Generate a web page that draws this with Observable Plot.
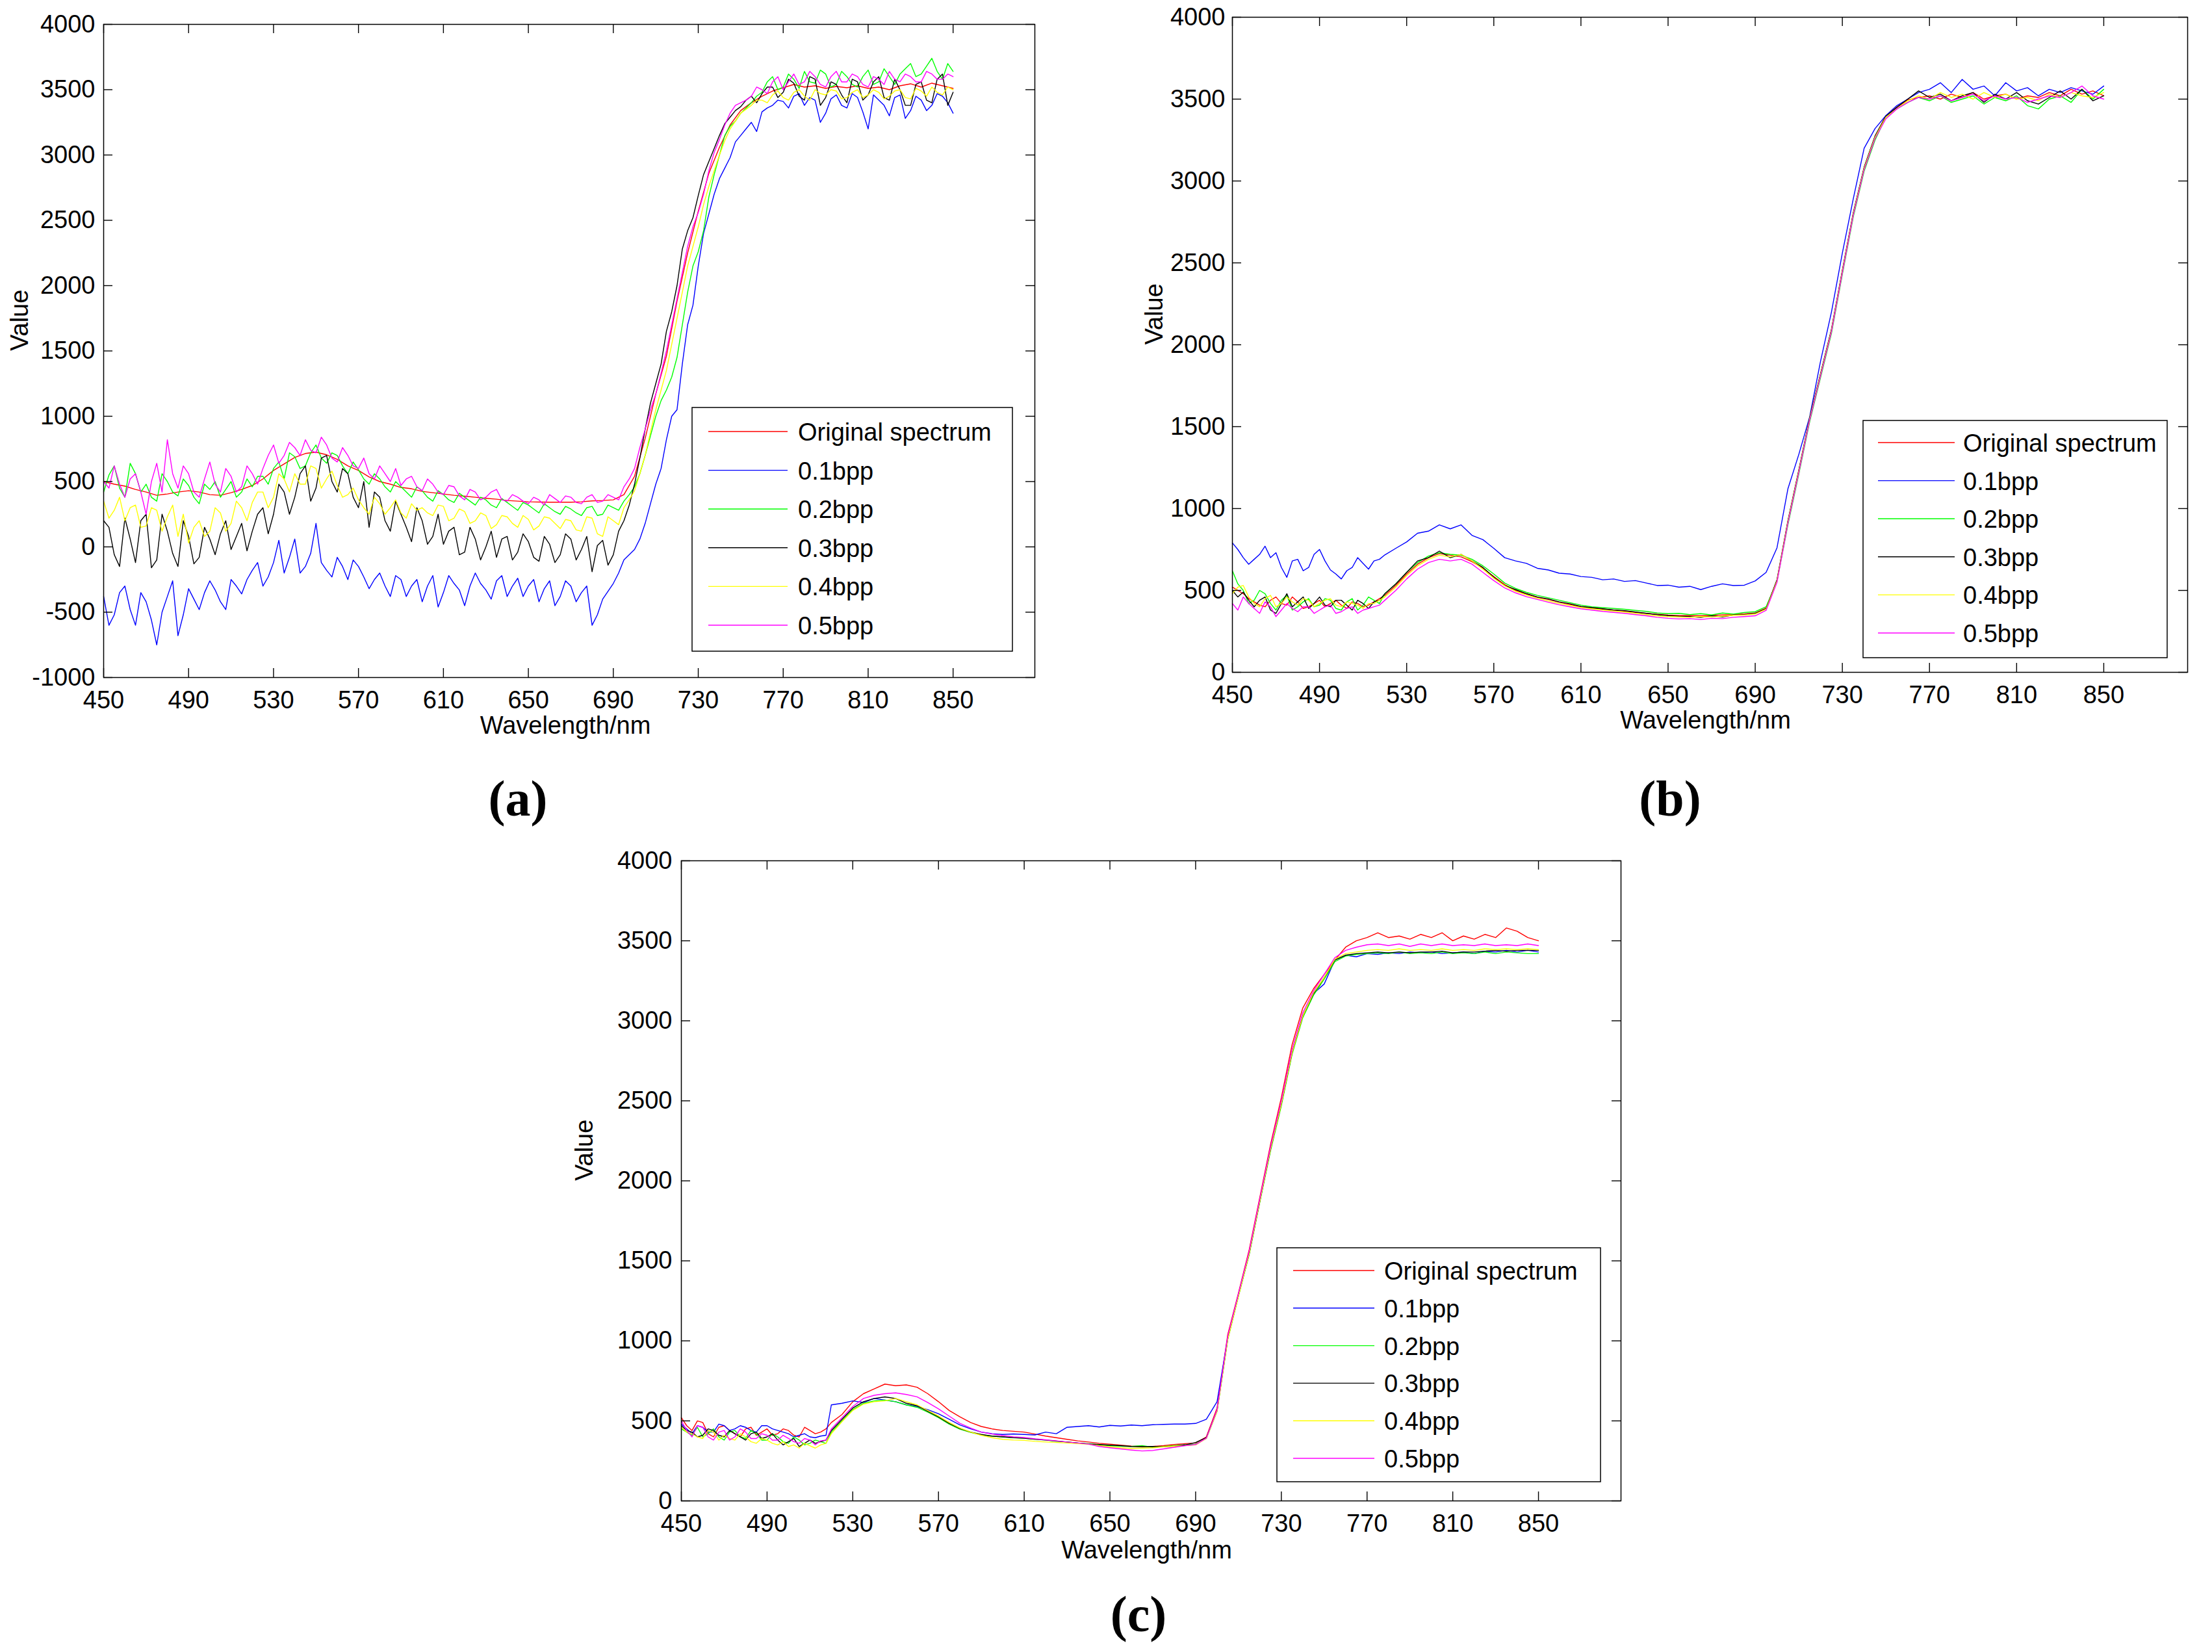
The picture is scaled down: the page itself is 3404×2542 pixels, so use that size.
<!DOCTYPE html>
<html>
<head>
<meta charset="utf-8">
<script src="https://cdn.jsdelivr.net/npm/d3@7"></script>
<script src="https://cdn.jsdelivr.net/npm/@observablehq/plot@0.6"></script>
<style>
  html, body { margin: 0; padding: 0; background: #fff; }
  body { width: 3404px; height: 2542px; position: relative; overflow: hidden; font-family: "Liberation Sans", Arial, sans-serif; }
  .panel { position: absolute; }
  #overlay { position: absolute; left: 0; top: 0; pointer-events: none; }
</style>
</head>
<body>
<div id="pa" class="panel" style="left:0px;top:0px;width:1700px;"></div>
<div id="pb" class="panel" style="left:1740px;top:0px;width:1664px;"></div>
<div id="pc" class="panel" style="left:860px;top:1290px;width:1700px;"></div>
<svg id="overlay" width="3404" height="2542"></svg>
<script>
// ---------- shared axes / categories ----------
const wavelength = [450,455,460,465,470,475,480,485,490,495,
  500,505,510,515,520,525,530,535,540,545,
  550,555,560,565,570,575,580,585,590,595,
  600,605,610,615,620,625,630,635,640,645,
  650,655,660,665,670,675,680,685,690,695,
  700,705,710,715,720,725,730,735,740,745,
  750,755,760,765,770,775,780,785,790,795,
  800,805,810,815,820,825,830,835,840,845,
  850];
// intermediate samples
const wavelengthMid = [452.5,457.5,462.5,467.5,472.5,477.5,482.5,487.5,492.5,497.5,
  502.5,507.5,512.5,517.5,522.5,527.5,532.5,537.5,542.5,547.5,
  552.5,557.5,562.5,567.5,572.5,577.5,582.5,587.5,592.5,597.5,
  602.5,607.5,612.5,617.5,622.5,627.5,632.5,637.5,642.5,647.5,
  652.5,657.5,662.5,667.5,672.5,677.5,682.5,687.5,692.5,697.5,
  702.5,707.5,712.5,717.5,722.5,727.5,732.5,737.5,742.5,747.5,
  752.5,757.5,762.5,767.5,772.5,777.5,782.5,787.5,792.5,797.5,
  802.5,807.5,812.5,817.5,822.5,827.5,832.5,837.5,842.5,847.5];
const wavelengthMidLow = [452.5,457.5,462.5,467.5,472.5,477.5,482.5,487.5,492.5,497.5,
  502.5,507.5,512.5,517.5];
const xTicks = [450,490,530,570,610,650,690,730,770,810,850];
const yTicksA = [-1000,-500,0,500,1000,1500,2000,2500,3000,3500,4000];
const yTicksBC = [0,500,1000,1500,2000,2500,3000,3500,4000];
const seriesNames = ["Original spectrum","0.1bpp","0.2bpp","0.3bpp","0.4bpp","0.5bpp"];
const seriesColors = ["#ff0000","#0000ff","#00ff00","#000000","#ffff00","#ff00ff"];
const panelLabels = ["(a)","(b)","(c)"];

// ---------- panel (a) ----------
const a_orig = [500,480,465,440,420,395,405,420,430,420,
  400,395,415,440,470,520,585,635,685,715,
  725,705,670,620,585,535,500,480,455,445,
  425,415,405,395,388,380,372,365,355,350,
  345,343,342,342,342,345,352,355,360,400,
  540,830,1170,1460,1880,2250,2570,2860,3060,3230,
  3340,3400,3450,3490,3515,3540,3520,3530,3510,3525,
  3515,3530,3510,3520,3500,3530,3545,3520,3550,3530,
  3510];
const a_01 = [-380,-520,-300,-600,-420,-750,-380,-680,-320,-480,
  -260,-420,-250,-360,-180,-300,-120,-200,60,-150,
  180,-180,-80,-250,-150,-320,-200,-380,-250,-300,
  -420,-220,-350,-280,-450,-200,-330,-260,-380,-240,
  -300,-420,-260,-380,-300,-350,-600,-400,-280,-100,
  -20,180,480,820,1050,1700,2150,2550,2820,2980,
  3150,3250,3330,3380,3410,3450,3380,3420,3320,3460,
  3360,3440,3200,3420,3300,3460,3340,3420,3380,3450,
  3320];
const a_01_mid = [-600,-350,-480,-350,-560,-500,-260,-520,-400,-350,
  -330,-480,-300,-250,-120,-230,50,-80,-200,-50,
  -120,-230,-150,-100,-230,-250,-300,-220,-380,-250,
  -300,-460,-220,-330,-300,-280,-400,-220,-300,-380,
  -250,-320,-450,-260,-420,-300,-520,-340,-200,-60,
  60,330,600,1000,1400,1850,2400,2700,2900,3100,
  3200,3180,3360,3420,3360,3470,3440,3250,3430,3380,
  3470,3330,3460,3380,3440,3280,3450,3340,3470,3400];
const a_02 = [420,620,380,560,480,350,500,390,470,330,
  440,380,500,420,460,540,600,520,690,620,
  780,640,700,560,590,480,520,420,460,380,
  430,350,400,340,380,320,360,300,340,280,
  320,260,300,250,290,240,310,250,300,350,
  460,700,1000,1200,1450,1950,2260,2680,3000,3220,
  3320,3400,3480,3600,3520,3580,3640,3550,3620,3540,
  3600,3520,3650,3560,3600,3620,3700,3620,3740,3580,
  3640];
const a_02_mid = [550,450,640,420,380,560,420,520,380,480,
  500,440,380,520,540,480,650,720,600,720,
  680,720,620,650,520,560,460,500,420,460,
  380,430,360,410,350,380,320,370,310,340,
  290,330,270,310,260,300,240,320,280,400,
  560,850,1120,1300,1700,2150,2420,2850,3150,3260,
  3360,3450,3560,3500,3620,3510,3560,3650,3520,3640,
  3540,3600,3540,3660,3540,3660,3600,3680,3640,3700];
const a_03 = [200,-60,220,-120,250,-100,120,-150,80,-80,
  60,100,-20,180,120,300,250,420,380,620,
  450,700,420,560,300,150,380,120,250,40,
  200,80,20,150,-40,60,0,-80,80,-40,
  40,-110,20,-60,60,-20,-190,50,-60,200,
  480,900,1250,1650,2000,2420,2690,2950,3150,3290,
  3370,3450,3470,3520,3480,3550,3420,3580,3440,3540,
  3400,3560,3460,3600,3420,3500,3380,3560,3400,3620,
  3480];
const a_03_mid = [150,-150,60,200,-160,250,-50,200,-130,150,
  -60,200,80,-30,250,100,480,250,560,350,
  680,500,600,380,500,420,200,350,150,300,
  20,250,120,-60,150,-100,120,60,-100,100,
  -80,80,-120,100,-100,80,10,-140,120,320,
  680,1100,1400,1800,2280,2520,2850,3050,3240,3340,
  3420,3400,3520,3440,3580,3450,3600,3380,3560,3460,
  3580,3420,3560,3440,3580,3380,3540,3420,3580,3380];
const a_04 = [350,280,200,320,160,280,230,80,30,200,
  120,260,180,300,340,420,380,520,560,480,
  600,520,470,400,360,250,330,300,260,330,
  300,240,310,220,270,200,240,170,230,150,
  210,160,220,140,200,120,220,80,200,300,
  430,700,1050,1350,1750,2150,2450,2760,3000,3200,
  3320,3380,3420,3460,3440,3480,3450,3500,3460,3490,
  3440,3500,3460,3480,3450,3500,3430,3490,3520,3460,
  3500];
const a_04_mid = [220,380,300,150,300,120,320,250,150,80,
  300,120,350,200,420,300,560,420,480,620,
  450,580,380,450,300,380,250,360,220,280,
  260,320,200,290,180,260,140,240,180,240,
  130,230,180,210,130,230,100,230,170,360,
  560,880,1200,1550,1950,2300,2620,2880,3110,3260,
  3350,3420,3400,3490,3420,3500,3420,3470,3500,3430,
  3480,3440,3500,3430,3490,3440,3510,3450,3480,3520];
const a_05 = [500,620,380,560,250,640,820,450,560,380,
  650,420,540,460,560,600,780,700,760,820,
  720,780,650,700,600,560,620,500,470,540,
  430,480,400,460,360,420,380,440,350,380,
  330,360,400,340,380,330,400,350,380,460,
  600,900,1170,1500,1900,2300,2560,2880,3120,3320,
  3400,3450,3500,3560,3500,3620,3560,3600,3520,3640,
  3560,3600,3520,3580,3640,3560,3600,3560,3620,3580,
  3600];
const a_05_mid = [450,480,520,420,500,420,560,620,420,520,
  480,600,420,620,480,700,640,800,700,740,
  840,680,760,620,680,520,560,600,520,460,
  520,420,470,390,440,360,420,360,400,350,
  380,320,370,390,340,380,340,400,360,520,
  760,1050,1330,1700,2100,2450,2700,3020,3230,3380,
  3420,3520,3470,3600,3560,3540,3640,3540,3600,3560,
  3620,3540,3600,3540,3580,3620,3560,3640,3580,3620];

// ---------- panel (b) ----------
const b_orig = [520,480,430,400,460,410,430,400,440,420,
  410,430,400,430,470,530,600,660,700,725,
  715,705,675,635,585,535,500,478,458,445,
  428,414,400,392,386,380,374,366,360,354,
  349,346,346,345,347,350,352,356,362,392,
  560,920,1230,1550,1820,2090,2450,2800,3080,3270,
  3400,3450,3495,3510,3520,3500,3530,3510,3540,3500,
  3520,3530,3500,3520,3510,3540,3520,3560,3530,3550,
  3520];
const b_orig_mid = [500,450,410,440,420,460,390,420,400,440,390,420,410,450];
const b_01 = [790,700,690,770,730,580,690,640,750,625,
  570,640,665,680,717,757,796,849,862,900,
  876,900,836,810,757,700,680,665,635,625,
  605,600,585,580,565,570,555,560,545,530,
  532,520,525,505,525,540,530,532,558,610,
  760,1120,1330,1560,1900,2200,2560,2890,3200,3320,
  3400,3460,3500,3540,3560,3600,3540,3620,3560,3580,
  3520,3600,3550,3570,3520,3560,3540,3570,3550,3530,
  3580];
const b_01_mid = [750,660,720,700,640,680,620,720,680,600,620,700,630,690];
const b_02 = [620,500,440,480,380,470,400,450,410,440,
  380,450,410,440,480,540,610,670,710,730,
  720,715,690,650,600,545,512,488,470,455,
  440,425,410,400,395,390,385,378,372,362,
  358,360,352,358,350,362,355,365,370,400,
  555,900,1210,1530,1800,2070,2430,2780,3060,3250,
  3390,3440,3480,3510,3490,3520,3480,3500,3520,3470,
  3510,3490,3520,3460,3440,3500,3520,3480,3560,3500,
  3560];
const b_02_mid = [540,420,500,420,440,380,430,400,450,390,430,380,460,420];
const b_03 = [500,490,400,460,360,480,430,390,460,400,
  440,380,420,430,480,540,610,680,700,740,
  700,720,680,640,580,530,505,480,460,448,
  430,418,402,395,388,380,376,368,360,352,
  346,342,340,335,345,338,350,352,360,388,
  565,925,1235,1555,1825,2095,2455,2805,3085,3275,
  3395,3450,3500,3550,3510,3530,3490,3520,3540,3480,
  3530,3500,3540,3490,3470,3510,3550,3500,3560,3490,
  3520];
const b_03_mid = [460,440,440,380,420,400,460,420,410,440,410,440,390,440];
const b_04 = [480,530,420,450,400,460,410,440,420,450,
  400,420,390,420,460,520,590,650,690,715,
  705,720,680,630,575,528,495,472,452,436,
  420,408,396,388,380,374,368,360,352,345,
  340,338,336,340,338,342,348,350,356,385,
  558,918,1228,1548,1818,2088,2448,2798,3078,3268,
  3390,3440,3490,3520,3500,3540,3510,3530,3500,3540,
  3510,3530,3500,3510,3490,3530,3510,3540,3520,3510,
  3540];
const b_04_mid = [520,460,400,470,420,430,450,400,440,410,430,410,420,440];
const b_05 = [420,460,390,430,340,420,370,400,380,410,
  370,400,380,400,440,500,570,630,670,690,
  680,690,660,610,560,515,485,462,445,428,
  412,400,388,380,372,366,360,352,345,336,
  330,326,328,322,330,328,336,340,345,378,
  550,910,1220,1540,1810,2080,2440,2790,3070,3260,
  3380,3440,3480,3510,3500,3520,3490,3510,3530,3490,
  3520,3500,3510,3480,3500,3520,3510,3540,3580,3520,
  3500];
const b_05_mid = [380,420,360,400,380,390,400,360,400,360,390,360,390,410];

// ---------- panel (c) ----------
const c_orig = [520,440,490,400,470,420,450,410,450,420,
  440,400,440,430,490,540,620,670,700,730,
  720,725,710,670,620,565,525,490,465,450,
  440,435,430,418,405,395,385,375,368,360,
  355,348,342,340,340,345,352,358,362,400,
  580,1040,1300,1570,1900,2230,2520,2850,3080,3200,
  3290,3380,3460,3500,3520,3550,3520,3530,3510,3540,
  3520,3550,3500,3530,3510,3540,3520,3580,3560,3520,
  3500];
const c_orig_mid = [470,500,420,460,440,400,460,430,410,450,410,460,420,450];
const c_01 = [480,420,460,430,470,450,460,430,470,440,
  420,410,400,405,600,610,625,615,640,630,
  620,600,590,570,545,510,475,450,430,420,
  415,418,415,412,430,420,460,465,470,462,
  472,468,474,470,476,478,480,480,484,510,
  620,1020,1290,1550,1880,2200,2480,2800,3030,3170,
  3230,3380,3410,3400,3420,3415,3425,3420,3430,3425,
  3430,3420,3425,3430,3420,3435,3430,3440,3430,3440,
  3430];
const c_01_mid = [450,470,430,480,440,470,440,470,450,430,400,420,395,410];
const c_02 = [450,410,400,450,380,440,390,420,380,400,
  360,380,360,370,430,500,570,610,625,630,
  620,600,585,555,520,480,448,428,412,405,
  400,395,392,385,380,372,368,362,358,350,
  345,342,340,345,335,340,345,350,355,390,
  560,1010,1280,1540,1870,2190,2470,2790,3020,3160,
  3260,3370,3405,3415,3420,3425,3420,3430,3420,3425,
  3420,3430,3420,3425,3420,3430,3420,3430,3425,3420,
  3420];
const c_02_mid = [430,460,420,400,430,400,440,380,420,370,400,350,380,360];
const c_03 = [470,430,410,440,400,420,380,430,400,380,
  370,340,380,370,440,510,580,620,640,650,
  640,610,595,560,525,485,452,430,415,405,
  400,396,392,386,380,374,368,362,356,352,
  348,345,340,338,340,338,342,350,365,395,
  565,1015,1285,1545,1875,2200,2480,2800,3030,3170,
  3270,3380,3410,3420,3425,3430,3425,3430,3425,3430,
  3430,3435,3425,3430,3430,3435,3440,3435,3440,3440,
  3440];
const c_03_mid = [440,400,450,410,440,400,420,390,420,350,390,360,360,380];
const c_04 = [460,420,390,430,410,380,400,360,380,350,
  340,330,345,350,420,495,565,605,620,625,
  640,620,600,565,530,490,455,430,410,395,
  385,380,378,372,368,365,362,358,354,345,
  338,332,328,330,332,338,342,345,350,390,
  560,1010,1280,1545,1875,2200,2480,2800,3030,3175,
  3270,3385,3420,3430,3440,3445,3440,3450,3440,3445,
  3440,3450,3440,3445,3440,3450,3445,3450,3445,3450,
  3445];
const c_04_mid = [430,400,440,380,390,420,370,390,360,370,350,360,330,360];
const c_05 = [500,400,460,380,440,400,430,390,410,380,
  390,360,380,375,450,520,590,640,660,670,
  675,665,650,615,575,530,485,455,430,418,
  408,400,396,388,382,375,368,362,355,340,
  332,325,318,312,315,325,335,345,352,392,
  570,1030,1295,1560,1890,2215,2500,2820,3050,3185,
  3290,3395,3440,3460,3475,3480,3470,3480,3465,3480,
  3470,3480,3470,3475,3470,3480,3470,3475,3470,3480,
  3470];
const c_05_mid = [440,470,400,430,380,450,390,420,380,410,370,390,350,380];

// ---------- drawing ----------
const FONT = '"Liberation Sans", Arial, Helvetica, sans-serif';
const FS = 38;

// merge the main samples with the extra (separately read) samples, ordered by wavelength
function samples(main, extra, extraW) {
  const rows = wavelength.map((w, j) => ({w, v: main[j]}));
  if (extra) extra.forEach((v, j) => rows.push({w: extraW[j], v}));
  return rows.sort((p, q) => p.w - q.w);
}

function makePanel(cfg) {
  const pw = cfg.width - cfg.ml - cfg.mr;
  const ph = cfg.height - cfg.mt - cfg.mb;
  const tick = 14;
  const marks = [];
  cfg.series.forEach((s, i) => {
    marks.push(Plot.line(samples(s[0], s[1], s[2]), {x: "w", y: "v", stroke: seriesColors[i], strokeWidth: 1.4}));
  });
  marks.push(Plot.frame({stroke: "black", strokeWidth: 1.5}));
  marks.push(Plot.tickX(xTicks, {x: d => d, insetTop: ph - tick, stroke: "black", strokeWidth: 1.4}));
  marks.push(Plot.tickX(xTicks, {x: d => d, insetBottom: ph - tick, stroke: "black", strokeWidth: 1.4}));
  marks.push(Plot.tickY(cfg.yTicks, {y: d => d, insetRight: pw - tick, stroke: "black", strokeWidth: 1.4}));
  marks.push(Plot.tickY(cfg.yTicks, {y: d => d, insetLeft: pw - tick, stroke: "black", strokeWidth: 1.4}));
  marks.push(Plot.text(xTicks, {x: d => d, text: d => String(d), frameAnchor: "bottom", lineAnchor: "top", dy: cfg.xPad, fontSize: FS, fill: "black"}));
  marks.push(Plot.text(cfg.yTicks, {y: d => d, text: d => String(d), frameAnchor: "left", textAnchor: "end", dx: -cfg.yPad, fontSize: FS, fill: "black"}));
  marks.push(Plot.text(["Value"], {text: d => d, frameAnchor: "left", rotate: -90, dx: cfg.valueDx, fontSize: FS, fill: "black"}));
  marks.push(Plot.text(["Wavelength/nm"], {text: d => d, frameAnchor: "bottom", dy: cfg.xLabelDy, dx: cfg.xLabelDx, fontSize: FS, fill: "black"}));
  return Plot.plot({
    width: cfg.width, height: cfg.height,
    marginTop: cfg.mt, marginRight: cfg.mr, marginBottom: cfg.mb, marginLeft: cfg.ml,
    x: {domain: [450, 888.5], axis: null},
    y: {domain: cfg.yDomain, axis: null},
    style: {fontFamily: FONT, fontSize: FS + "px", background: "white", color: "black", overflow: "visible"},
    marks
  });
}

document.getElementById("pa").appendChild(makePanel({
  series: [[a_orig], [a_01, a_01_mid, wavelengthMid], [a_02, a_02_mid, wavelengthMid],
           [a_03, a_03_mid, wavelengthMid], [a_04, a_04_mid, wavelengthMid], [a_05, a_05_mid, wavelengthMid]],
  yDomain: [-1000, 4000], yTicks: yTicksA,
  width: 1700, height: 1190, mt: 37, mr: 108, mb: 148, ml: 159,
  xPad: 21, yPad: 13, valueDx: -129, xLabelDy: 86, xLabelDx: -6
}));
document.getElementById("pb").appendChild(makePanel({
  series: [[b_orig, b_orig_mid, wavelengthMidLow], [b_01, b_01_mid, wavelengthMidLow], [b_02, b_02_mid, wavelengthMidLow],
           [b_03, b_03_mid, wavelengthMidLow], [b_04, b_04_mid, wavelengthMidLow], [b_05, b_05_mid, wavelengthMidLow]],
  yDomain: [0, 4000], yTicks: yTicksBC,
  width: 1664, height: 1190, mt: 26, mr: 38, mb: 156, ml: 156,
  xPad: 21, yPad: 11, valueDx: -120, xLabelDy: 86, xLabelDx: -7
}));
document.getElementById("pc").appendChild(makePanel({
  series: [[c_orig, c_orig_mid, wavelengthMidLow], [c_01, c_01_mid, wavelengthMidLow], [c_02, c_02_mid, wavelengthMidLow],
           [c_03, c_03_mid, wavelengthMidLow], [c_04, c_04_mid, wavelengthMidLow], [c_05, c_05_mid, wavelengthMidLow]],
  yDomain: [0, 4000], yTicks: yTicksBC,
  width: 1700, height: 1160, mt: 34, mr: 66, mb: 141, ml: 188,
  xPad: 21, yPad: 14, valueDx: -149, xLabelDy: 88, xLabelDx: -7
}));

// ---------- legends and panel captions (overlay) ----------
const legends = [
  {x: 1065, y: 627, w: 493, h: 375, l1: 1090, l2: 1212, tx: 1228, r0: 664, dr: 59.6},
  {x: 2867, y: 647, w: 468, h: 365, l1: 2890, l2: 3008, tx: 3021, r0: 681, dr: 58.6},
  {x: 1965, y: 1920, w: 498, h: 360, l1: 1990, l2: 2115, tx: 2130, r0: 1955, dr: 57.8}
];
const captions = [{x: 797, y: 1255}, {x: 2570, y: 1255}, {x: 1752, y: 2510}];
const ov = d3.select("#overlay");
legends.forEach(L => {
  const g = ov.append("g");
  g.append("rect").attr("x", L.x).attr("y", L.y).attr("width", L.w).attr("height", L.h)
    .attr("fill", "white").attr("stroke", "black").attr("stroke-width", 1.5);
  seriesNames.forEach((name, i) => {
    const yy = L.r0 + i * L.dr;
    g.append("line").attr("x1", L.l1).attr("x2", L.l2).attr("y1", yy).attr("y2", yy)
      .attr("stroke", seriesColors[i]).attr("stroke-width", 1.4);
    g.append("text").attr("x", L.tx).attr("y", yy + 14).text(name)
      .attr("font-family", FONT).attr("font-size", FS).attr("fill", "black");
  });
});
captions.forEach((c, i) => {
  ov.append("text").attr("x", c.x).attr("y", c.y).attr("text-anchor", "middle")
    .attr("font-family", '"Liberation Serif", "Times New Roman", serif').attr("font-weight", "bold")
    .attr("font-size", 78).attr("fill", "black").text(panelLabels[i]);
});
</script>
</body>
</html>
